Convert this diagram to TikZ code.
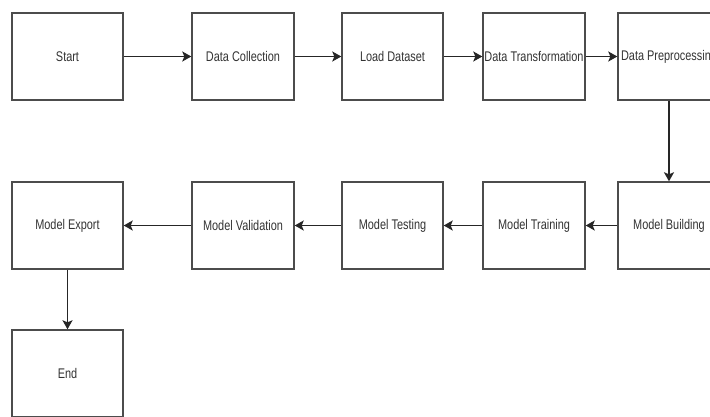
\documentclass[tikz,border=0pt]{standalone}
\usepackage{fontspec}
\setmainfont{Liberation Sans}[FakeStretch=0.78]
\usepackage{tikz}
\usetikzlibrary{arrows.meta}

\begin{document}
\begin{tikzpicture}[x=1pt,y=-1pt]
    \tikzstyle{every node}+=[inner sep=0pt]
    \tikzstyle{stepbox}=[draw=black!70, line width=1.4pt, fill=white, text=black!80,
        minimum width=102pt, minimum height=87pt, font=\fontsize{14}{16}\selectfont]
    \tikzstyle{flow}=[draw=black!85, line width=1.7pt, -{Stealth[length=9pt,width=10pt,inset=2pt]}]
    \useasboundingbox (0,0) rectangle (710,416);
    \node [stepbox, minimum width=111pt] (start) at (67.5,56.5) {Start};
    \node [stepbox] (collect) at (243,56.5) {Data Collection};
    \node [stepbox, minimum width=101pt] (load) at (392.5,56.5) {Load Dataset};
    \node [stepbox] (transform) at (534,56.5) {Data Transformation};
    \node [stepbox] (preproc) at (669,56.5) {Data Preprocessing};
    \node [stepbox] (build) at (669,225.5) {Model Building};
    \node [stepbox] (train) at (534,225.5) {Model Training};
    \node [stepbox, minimum width=101pt] (test) at (392.5,225.5) {Model Testing};
    \node [stepbox] (valid) at (243,225.5) {Model Validation};
    \node [stepbox, minimum width=111pt] (export) at (67.5,225.5) {Model Export};
    \node [stepbox, minimum width=111pt] (end) at (67.5,373.5) {End};
    \draw [flow] (start) -- (collect);
    \draw [flow] (collect) -- (load);
    \draw [flow] (load) -- (transform);
    \draw [flow] (transform) -- (preproc);
    \draw [flow] (preproc) -- (build);
    \draw [flow] (build) -- (train);
    \draw [flow] (train) -- (test);
    \draw [flow] (test) -- (valid);
    \draw [flow] (valid) -- (export);
    \draw [flow] (export) -- (end);
\end{tikzpicture}
\end{document}
